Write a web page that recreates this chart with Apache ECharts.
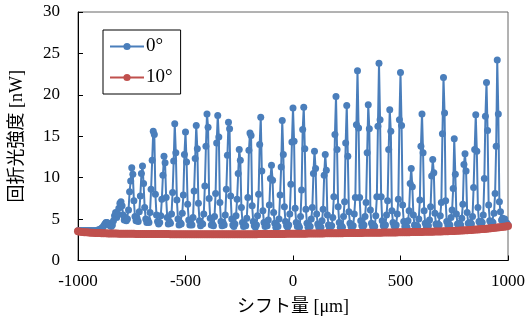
<!DOCTYPE html>
<html>
<head>
<meta charset="utf-8">
<script src="https://cdn.jsdelivr.net/npm/echarts@6/dist/echarts.min.js"></script>
<style>
  html, body { margin: 0; padding: 0; background: #ffffff; }
  #chart { width: 531px; height: 326px; }
</style>
</head>
<body>
<div id="chart"></div>
<script>
  // x grid: blue sampled every 5 um, red every 10 um
  var xStart = -1000;
  var stepBlue = 5;
  var stepRed = 10;

  // 0 deg, one row = 50 um (-1000 ... 995), then the value at 1000
  var blue0 = [
    3.6, 3.6, 3.6, 3.6, 3.6, 3.6, 3.6, 3.6, 3.6, 3.6,
    3.6, 3.6, 3.6, 3.6, 3.6, 3.6, 3.6, 3.6, 3.6, 3.7,
    3.7, 3.8, 3.9, 4.0, 4.2, 4.4, 4.6, 4.6, 4.5, 4.3,
    4.2, 4.1, 4.3, 4.8, 5.4, 5.8, 5.2, 5.6, 6.3, 6.9,
    7.1, 6.6, 5.5, 4.9, 5.2, 4.8, 5.0, 6.1, 8.3, 9.6,
    11.2, 10.4, 7.2, 5.3, 4.8, 5.1, 4.7, 5.9, 7.8, 10.5,
    11.4, 9.3, 6.4, 5.0, 4.6, 4.9, 4.6, 5.8, 8.6, 12.1,
    15.6, 15.2, 8.0, 5.5, 4.7, 4.4, 4.6, 5.4, 7.4, 10.3,
    12.6, 11.8, 7.6, 5.2, 4.4, 4.7, 4.5, 5.6, 8.2, 12.0,
    16.5, 13.0, 7.3, 5.0, 4.3, 4.6, 4.4, 5.7, 7.9, 12.8,
    15.5, 11.9, 6.8, 4.9, 4.3, 4.5, 4.3, 5.2, 8.4, 12.3,
    16.3, 13.5, 6.9, 4.8, 4.2, 4.5, 4.4, 5.6, 9.0, 13.8,
    17.7, 16.1, 7.5, 5.1, 4.3, 4.4, 4.2, 5.3, 8.1, 14.2,
    17.5, 14.9, 7.0, 4.7, 4.2, 4.6, 4.3, 5.5, 8.6, 12.7,
    16.7, 15.9, 7.8, 5.0, 4.3, 4.1, 4.4, 5.4, 7.4, 10.5,
    13.4, 12.1, 6.4, 4.6, 4.1, 4.3, 4.2, 5.1, 7.6, 13.3,
    15.4, 15.1, 6.6, 4.7, 4.2, 4.0, 4.3, 5.4, 8.0, 14.0,
    17.3, 10.8, 6.0, 4.6, 4.1, 4.4, 4.2, 4.9, 6.7, 9.9,
    11.5, 9.7, 5.8, 4.5, 4.0, 4.2, 4.1, 5.0, 7.9, 11.3,
    16.9, 12.8, 6.5, 4.7, 4.2, 4.0, 4.3, 5.6, 9.2, 14.3,
    18.4, 14.4, 6.3, 4.6, 4.1, 4.3, 4.0, 5.3, 8.5, 15.8,
    18.5, 13.5, 6.2, 4.5, 4.0, 4.2, 4.1, 5.0, 6.4, 10.5,
    13.2, 11.1, 5.6, 4.4, 4.0, 4.2, 4.0, 4.8, 6.2, 10.3,
    12.8, 10.9, 5.5, 4.3, 3.9, 4.1, 4.2, 5.2, 7.7, 15.2,
    19.8, 13.4, 6.5, 4.6, 4.0, 4.2, 4.0, 5.3, 7.1, 14.2,
    18.7, 12.6, 5.9, 4.5, 4.1, 4.0, 4.2, 5.6, 7.6, 16.4,
    22.9, 16.0, 7.6, 4.8, 4.2, 4.0, 4.3, 5.3, 7.0, 13.0,
    18.8, 15.9, 6.1, 4.5, 4.1, 4.3, 4.1, 5.4, 7.7, 16.2,
    23.8, 17.0, 7.7, 4.8, 4.2, 4.1, 4.3, 5.5, 7.2, 13.4,
    18.2, 15.6, 6.0, 4.6, 4.2, 4.0, 4.3, 5.6, 7.4, 17.0,
    22.7, 16.3, 6.7, 4.7, 4.1, 4.3, 4.0, 4.8, 6.0, 9.3,
    11.1, 8.9, 5.5, 4.3, 4.0, 4.2, 4.1, 5.0, 7.3, 13.8,
    17.7, 13.0, 6.0, 4.5, 4.1, 4.3, 4.2, 4.9, 6.5, 10.2,
    12.2, 10.6, 5.7, 4.4, 4.2, 4.4, 4.3, 5.4, 7.0, 15.3,
    22.1, 17.8, 7.2, 4.7, 4.3, 4.4, 4.3, 5.2, 6.1, 8.7,
    14.7, 10.4, 5.6, 4.4, 4.3, 4.5, 4.3, 5.1, 6.8, 11.6,
    12.9, 10.8, 5.8, 4.5, 4.4, 4.6, 4.4, 5.3, 8.8, 13.4,
    17.6, 13.2, 6.4, 4.7, 4.5, 4.7, 4.6, 5.5, 9.9, 17.4,
    21.5, 15.7, 6.7, 4.8, 4.6, 4.7, 4.6, 5.7, 8.1, 13.8,
    24.2, 17.7, 7.1, 5.9, 4.9, 5.1, 4.8, 5.0, 4.6, 4.5,
    4.3
  ];

  // 10 deg, one row = 100 um (-1000 ... 990), then the value at 1000
  var red10 = [
    3.52, 3.48, 3.45, 3.42, 3.40, 3.38, 3.36, 3.35, 3.33, 3.32,
    3.31, 3.30, 3.29, 3.28, 3.27, 3.26, 3.26, 3.25, 3.25, 3.24,
    3.24, 3.23, 3.23, 3.23, 3.22, 3.22, 3.22, 3.21, 3.21, 3.21,
    3.21, 3.20, 3.20, 3.20, 3.20, 3.20, 3.19, 3.19, 3.19, 3.19,
    3.19, 3.19, 3.19, 3.18, 3.18, 3.18, 3.18, 3.18, 3.18, 3.18,
    3.18, 3.18, 3.18, 3.17, 3.17, 3.17, 3.17, 3.17, 3.17, 3.17,
    3.17, 3.17, 3.17, 3.17, 3.17, 3.17, 3.17, 3.17, 3.17, 3.17,
    3.17, 3.17, 3.17, 3.17, 3.17, 3.17, 3.17, 3.18, 3.18, 3.18,
    3.18, 3.18, 3.18, 3.18, 3.19, 3.19, 3.19, 3.19, 3.20, 3.20,
    3.20, 3.20, 3.20, 3.21, 3.21, 3.21, 3.21, 3.22, 3.22, 3.22,
    3.22, 3.23, 3.23, 3.23, 3.24, 3.24, 3.24, 3.25, 3.25, 3.26,
    3.26, 3.26, 3.27, 3.27, 3.27, 3.28, 3.28, 3.28, 3.29, 3.29,
    3.29, 3.30, 3.30, 3.30, 3.31, 3.31, 3.31, 3.32, 3.32, 3.32,
    3.33, 3.33, 3.33, 3.34, 3.34, 3.34, 3.35, 3.35, 3.35, 3.36,
    3.36, 3.36, 3.37, 3.37, 3.38, 3.38, 3.38, 3.39, 3.39, 3.40,
    3.40, 3.41, 3.41, 3.42, 3.42, 3.43, 3.43, 3.44, 3.44, 3.45,
    3.45, 3.46, 3.46, 3.47, 3.48, 3.48, 3.49, 3.50, 3.51, 3.51,
    3.52, 3.53, 3.54, 3.55, 3.56, 3.57, 3.58, 3.60, 3.61, 3.63,
    3.64, 3.66, 3.67, 3.69, 3.71, 3.73, 3.75, 3.77, 3.79, 3.81,
    3.84, 3.86, 3.89, 3.92, 3.95, 3.98, 4.01, 4.04, 4.08, 4.11,
    4.15
  ];

  var xTicks = [-1000, -500, 0, 500, 1000];
  var yTicks = [0, 5, 10, 15, 20, 25, 30];

  var blueData = blue0.map(function (v, i) { return [xStart + i * stepBlue, v]; });
  var redData = red10.map(function (v, i) { return [xStart + i * stepRed, v]; });

  var serif = '"Liberation Serif", "Noto Sans CJK JP", serif';
  var myChart = echarts.init(document.getElementById('chart'));
  var option = {
    animation: false,
    backgroundColor: '#ffffff',
    grid: {
      left: 76, right: 23, top: 12, bottom: 65.5,
      show: true, borderColor: '#666', borderWidth: 1
    },
    legend: {
      orient: 'vertical',
      left: 103, top: 30,
      padding: [7, 8, 7, 6],
      itemGap: 12,
      itemWidth: 34,
      itemHeight: 9,
      borderColor: '#000',
      borderWidth: 1,
      backgroundColor: '#fff',
      textStyle: { fontFamily: serif, fontSize: 19, color: '#000', padding: [0, 0, 0, -3] },
      data: ['0°', '10°']
    },
    xAxis: {
      type: 'value',
      min: -1000, max: 1000, interval: 500,
      name: 'シフト量 [μm]',
      nameLocation: 'middle',
      nameGap: 38,
      nameTextStyle: { fontFamily: serif, fontSize: 18, color: '#000' },
      axisLine: { onZero: false, lineStyle: { color: '#000', width: 1 } },
      axisTick: { inside: true, length: 5, lineStyle: { color: '#000' } },
      axisLabel: {
        margin: 13, fontFamily: serif, fontSize: 17, color: '#000',
        formatter: function (v) { return xTicks.indexOf(v) >= 0 ? String(v) : ''; }
      },
      splitLine: { show: false }
    },
    yAxis: {
      type: 'value',
      min: 0, max: 30, interval: 5,
      name: '回折光強度 [nW]',
      nameLocation: 'middle',
      nameGap: 52,
      nameTextStyle: { fontFamily: serif, fontSize: 18, color: '#000' },
      axisLine: { show: true, onZero: false, lineStyle: { color: '#000', width: 1 } },
      axisTick: { show: true, inside: true, length: 5, lineStyle: { color: '#000' } },
      axisLabel: {
        margin: 18, fontFamily: serif, fontSize: 17, color: '#000',
        formatter: function (v) { return yTicks.indexOf(v) >= 0 ? String(v) : ''; }
      },
      splitLine: { show: false }
    },
    series: [
      {
        name: '0°',
        type: 'line',
        data: blueData,
        color: '#4a7ebb',
        symbol: 'circle',
        symbolSize: 7,
        showAllSymbol: true,
        lineStyle: { width: 2, color: '#4a7ebb' },
        itemStyle: { color: '#4a7ebb' }
      },
      {
        name: '10°',
        type: 'line',
        data: redData,
        color: '#c0504d',
        symbol: 'circle',
        symbolSize: 8,
        showAllSymbol: true,
        lineStyle: { width: 5, color: '#c0504d' },
        itemStyle: { color: '#c0504d' }
      }
    ]
  };
  option && myChart.setOption(option);
</script>
</body>
</html>
